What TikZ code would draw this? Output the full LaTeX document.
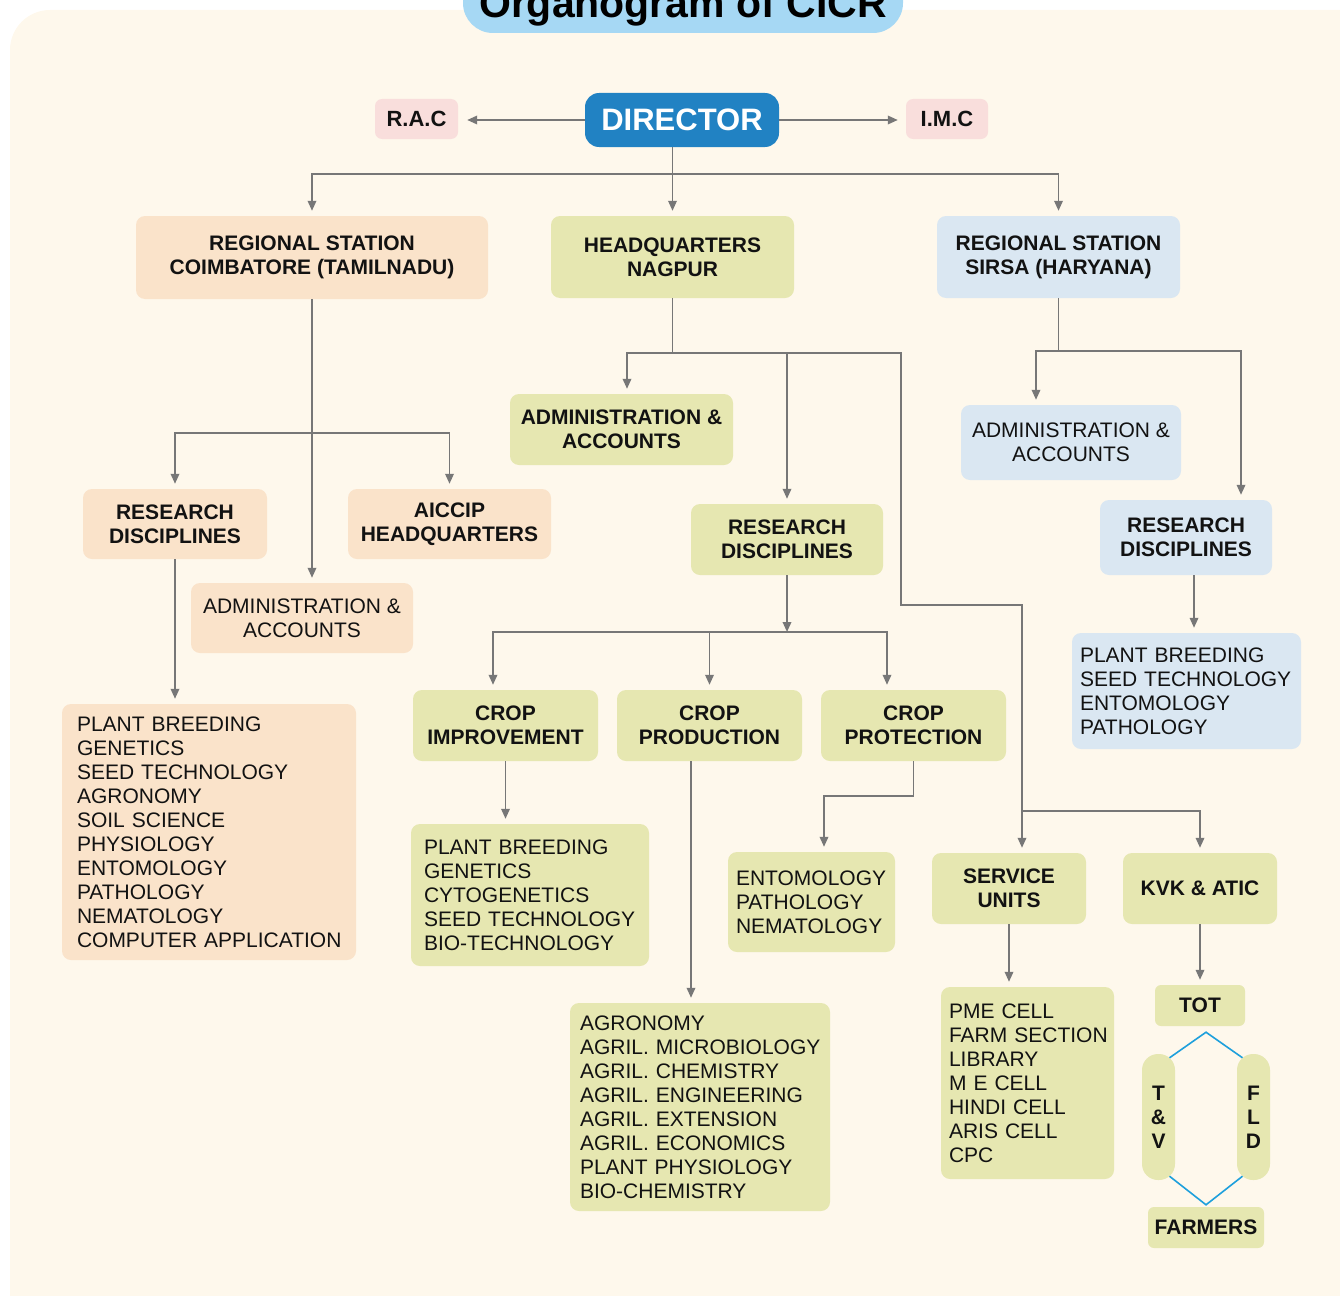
\documentclass[tikz,border=0pt]{standalone}
\usepackage{fontspec}
\setmainfont{Liberation Sans}
\usetikzlibrary{arrows.meta}
\definecolor{bgcream}{HTML}{FEF8EC}
\definecolor{titleblue}{HTML}{A6D8F4}
\definecolor{dirblue}{HTML}{2182C3}
\definecolor{rosebox}{HTML}{F9DEDC}
\definecolor{peachbox}{HTML}{FAE3CA}
\definecolor{olivebox}{HTML}{E6E7B1}
\definecolor{skybox}{HTML}{DAE7F2}
\definecolor{linegray}{HTML}{777777}
\definecolor{cyanline}{HTML}{1EA0DC}
\hyphenpenalty=10000
\exhyphenpenalty=10000

\begin{document}
\begin{tikzpicture}[x=1pt, y=-1pt,
    box/.style={rounded corners=9pt, inner sep=0pt, align=center, text=black!93,
      font=\fontsize{21}{24}\selectfont\bfseries},
    plain/.style={font=\fontsize{21}{24}\selectfont},
    listbox/.style={box, plain, align=left},
    peach/.style={fill=peachbox}, olive/.style={fill=olivebox},
    sky/.style={fill=skybox}, rose/.style={fill=rosebox},
    line/.style={draw=linegray, line width=1.8pt},
    arr/.style={line, -{Triangle[length=10pt,width=8.5pt]}, shorten >=5pt},
    cline/.style={draw=cyanline, line width=1.6pt}]

\useasboundingbox (0,0) rectangle (1340,1295);
\clip (0,0) rectangle (1340,1295);
\fill[bgcream, rounded corners=40pt] (10,10) rectangle (1400,1360);

% title and top level
\node[fill=titleblue, rounded corners=30pt, minimum width=440, text height=62pt,
  text depth=15pt, inner sep=0pt, anchor=base,
  font=\fontsize{41}{48}\selectfont\bfseries] (title) at (683,18) {Organogram of CICR};
\node[box, fill=dirblue, text=white, rounded corners=14pt, minimum width=194,
  minimum height=54, font=\fontsize{31}{36}\selectfont\bfseries] (dir) at (682,120) {DIRECTOR};
\node[box, rose, rounded corners=7pt, minimum width=83, minimum height=40,
  font=\fontsize{22}{26}\selectfont\bfseries] (rac) at (416.5,119) {R.A.C};
\node[box, rose, rounded corners=7pt, minimum width=82, minimum height=40,
  font=\fontsize{22}{26}\selectfont\bfseries] (imc) at (947,119) {I.M.C};

\node[box, peach, minimum width=352, minimum height=83] (rsc) at (312,257.5) {REGIONAL STATION\\COIMBATORE (TAMILNADU)};
\node[box, olive, minimum width=243, minimum height=82] (hq) at (672.5,257) {HEADQUARTERS\\NAGPUR};
\node[box, sky, minimum width=243, minimum height=82] (rss) at (1058.5,257) {REGIONAL STATION\\SIRSA (HARYANA)};

% Coimbatore
\node[box, peach, minimum width=184, minimum height=70] (rdc) at (175,524) {RESEARCH\\DISCIPLINES};
\node[box, peach, minimum width=203, minimum height=70] (aic) at (449.5,524) {AICCIP\\HEADQUARTERS};
\node[box, peach, plain, minimum width=222, minimum height=70] (adc) at (302,618) {ADMINISTRATION~\&\\ACCOUNTS};
\node[listbox, peach, minimum width=294, minimum height=256, text width=264] (rdlc) at (209,832)
  {PLANT~BREEDING\\GENETICS\\SEED~TECHNOLOGY\\AGRONOMY\\SOIL~SCIENCE\\PHYSIOLOGY\\ENTOMOLOGY\\PATHOLOGY\\NEMATOLOGY\\COMPUTER~APPLICATION};

% Nagpur
\node[box, olive, minimum width=223, minimum height=71] (adh) at (621.5,429.5) {ADMINISTRATION~\&\\ACCOUNTS};
\node[box, olive, minimum width=192, minimum height=71] (rdh) at (787,539.5) {RESEARCH\\DISCIPLINES};
\node[box, olive, minimum width=185, minimum height=71] (cimp) at (505.5,725.5) {CROP\\IMPROVEMENT};
\node[box, olive, minimum width=185, minimum height=71] (cprod) at (709.5,725.5) {CROP\\PRODUCTION};
\node[box, olive, minimum width=185, minimum height=71] (cprot) at (913.5,725.5) {CROP\\PROTECTION};
\node[listbox, olive, minimum width=238, minimum height=142, text width=212] (cimpl) at (530,895)
  {PLANT~BREEDING\\GENETICS\\CYTOGENETICS\\SEED~TECHNOLOGY\\BIO-TECHNOLOGY};
\node[listbox, olive, minimum width=260, minimum height=208, text width=240] (cprodl) at (700,1107)
  {AGRONOMY\\AGRIL.~MICROBIOLOGY\\AGRIL.~CHEMISTRY\\AGRIL.~ENGINEERING\\AGRIL.~EXTENSION\\AGRIL.~ECONOMICS\\PLANT~PHYSIOLOGY\\BIO-CHEMISTRY};
\node[listbox, olive, minimum width=167, minimum height=100, text width=151] (cprotl) at (811.5,902)
  {ENTOMOLOGY\\PATHOLOGY\\NEMATOLOGY};
\node[box, olive, minimum width=154, minimum height=71] (svc) at (1009,888.5) {SERVICE\\UNITS};
\node[box, olive, minimum width=154, minimum height=71] (kvk) at (1200,888.5) {KVK \& ATIC};
\node[listbox, olive, minimum width=173, minimum height=192, text width=157] (svcl) at (1027.5,1083)
  {PME~CELL\\FARM~SECTION\\LIBRARY\\M~E~CELL\\HINDI~CELL\\ARIS~CELL\\CPC};
\node[box, olive, rounded corners=6pt, minimum width=90, minimum height=41] (tot) at (1200,1005.5) {TOT};
\node[box, olive, rounded corners=16pt, minimum width=33, minimum height=126] (tv) at (1158.5,1117) {T\\\&\\V};
\node[box, olive, rounded corners=16pt, minimum width=33, minimum height=126] (fld) at (1253.5,1117) {F\\L\\D};
\node[box, olive, rounded corners=6pt, minimum width=116, minimum height=41] (farm) at (1206,1227.5) {FARMERS};

% Sirsa
\node[box, sky, plain, minimum width=220, minimum height=75] (ads) at (1071,442.5) {ADMINISTRATION~\&\\ACCOUNTS};
\node[box, sky, minimum width=172, minimum height=75] (rds) at (1186,537.5) {RESEARCH\\DISCIPLINES};
\node[listbox, sky, minimum width=229, minimum height=116, text width=213] (rdsl) at (1186.5,691)
  {PLANT~BREEDING\\SEED~TECHNOLOGY\\ENTOMOLOGY\\PATHOLOGY};

% connectors
\draw[arr, shorten >=9pt] (dir.west) -- (dir.west -| rac.east);
\draw[arr, shorten >=8pt] (dir.east) -- (dir.east -| imc.west);
\coordinate (topbus) at (672.5,174);
\draw[arr] (dir.south -| hq.north) -- (hq.north);
\draw[arr] (topbus) -| (rsc.north);
\draw[arr] (topbus) -| (rss.north);

\coordinate (cbus) at (312,433);
\draw[arr] (rsc.south) -- (rsc.south |- adc.north);
\draw[arr] (cbus) -| (rdc.north);
\draw[arr] (cbus) -| (aic.north);
\draw[arr] (rdc.south) -- (rdc.south |- rdlc.north);

\coordinate (hbus) at (672.5,353);
\coordinate (hturn) at (901,605);
\coordinate (sbus) at (1022,811);
\draw[line] (hq.south) -- (hbus);
\draw[arr] (hbus) -| ([xshift=5.5pt]adh.north);
\draw[arr] (hbus) -| (rdh.north);
\draw[line] (hbus) -| (hturn) -| (sbus);
\draw[arr] (sbus) -- (sbus |- svc.north);
\draw[arr] (sbus) -| (kvk.north);

\coordinate (cbus2) at (787,632);
\draw[arr, shorten >=0pt] (rdh.south) -- (cbus2);
\draw[arr] (cbus2) -| ([xshift=-12.5pt]cimp.north);
\draw[arr] (cbus2) -| (cprod.north);
\draw[arr] (cbus2) -| ([xshift=-26.5pt]cprot.north);
\draw[arr] (cimp.south) -- (cimp.south |- cimpl.north);
\draw[arr] ([xshift=-18.5pt]cprod.south) -- ([xshift=-18.5pt]cprod.south |- cprodl.north);
\coordinate (pbend) at (824,796);
\draw[arr] (cprot.south) |- (pbend) -- (pbend |- cprotl.north);
\draw[arr] (svc.south) -- (svc.south |- svcl.north);
\draw[arr] (kvk.south) -- (tot.north);
\draw[cline] ([xshift=11pt,yshift=-4pt]tv.north) -- ([xshift=6pt,yshift=-6pt]tot.south)
  -- ([xshift=-11pt,yshift=-4pt]fld.north);
\draw[cline] ([xshift=11pt,yshift=4pt]tv.south) -- ([yshift=2pt]farm.north)
  -- ([xshift=-11pt,yshift=4pt]fld.south);

\coordinate (sbus2) at (1058.5,351);
\draw[line] (rss.south) -- (sbus2);
\draw[arr] (sbus2) -| ([xshift=-35pt]ads.north);
\draw[arr] (sbus2) -| ([xshift=55pt]rds.north);
\draw[arr] ([xshift=8pt]rds.south) -- ([xshift=8pt]rds.south |- rdsl.north);
\end{tikzpicture}
\end{document}
